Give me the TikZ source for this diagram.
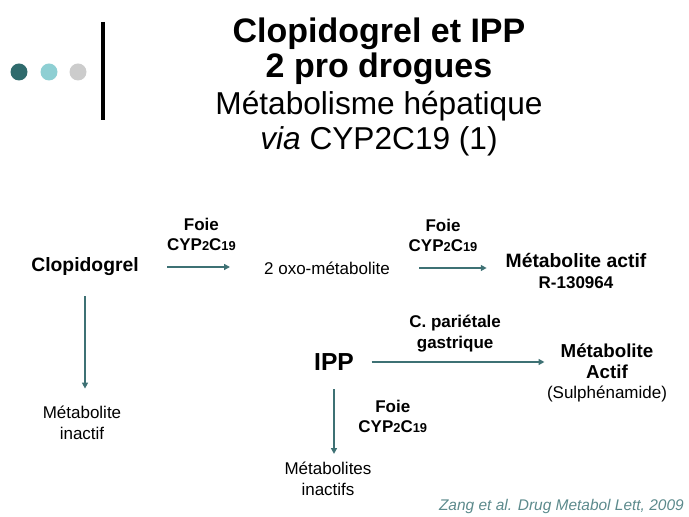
\documentclass[tikz,border=0pt]{standalone}
\usepackage{fontspec}
\setmainfont{Liberation Sans}
\usepackage{xcolor}
\usetikzlibrary{arrows.meta,positioning}

\definecolor{teal1}{HTML}{2F6B6D}
\definecolor{teal2}{HTML}{8ECFD3}
\definecolor{grey1}{HTML}{CCCCCC}
\definecolor{flowc}{HTML}{3E7174}
\definecolor{refc}{HTML}{5C8A8C}

% small digits in the enzyme name
\newcommand{\smalldig}[1]{{\fontsize{11}{11}\selectfont #1}}
\newcommand{\cypname}{CYP\smalldig{2}C\smalldig{19}}

\begin{document}
\begin{tikzpicture}[
    x=0.03cm, y=-0.03cm,
    % Styles
    titlebold/.style={% first two lines of the title
        inner sep=0pt,
        font=\fontsize{29}{31}\selectfont\bfseries
        },
    titlereg/.style={% last two lines of the title
        inner sep=0pt,
        font=\fontsize{27}{31}\selectfont
        },
    drug/.style={% main compounds
        inner sep=0pt, align=center,
        font=\fontsize{16.5}{19}\selectfont\bfseries
        },
    enz/.style={% enzyme / organ labels
        inner sep=0pt, align=center,
        font=\fontsize{14.5}{17.5}\selectfont\bfseries
        },
    plain/.style={% ordinary text
        inner sep=0pt, align=center,
        font=\fontsize{14.5}{17.5}\selectfont
        },
    flow/.style={% teal arrows
        draw=flowc,
        line width=1.7pt,
        -{Triangle[length=5pt,width=5pt]},
        },
    ]

% frame of the page
\useasboundingbox (0,0) rectangle (689,517);

% dots and bar on the left
\fill[teal1] (19,72) circle (8.5);
\fill[teal2] (49,72) circle (8.5);
\fill[grey1] (78,72) circle (8.5);
\draw[line width=2.6pt] (103,22) -- (103,120);

% title
\node[titlebold] (t1) at (379,34) {Clopidogrel et IPP};
\node[titlebold] (t2) at (379,69) {2 pro drogues};
\node[titlereg]  (t3) at (379,106) {Métabolisme hépatique};
\node[titlereg]  (t4) at (379,141) {\itshape via\upshape\ CYP2C19 (1)};

% clopidogrel pathway
\node[drug] (clopi) at (85,267) {Clopidogrel};
\node[plain] (oxo) at (327,268) {2 oxo-métabolite};
\node[drug] (actif) at (576,271) {Métabolite actif\\[-1pt]{\fontsize{14.5}{14.5}\selectfont R-130964}};
\node[plain] (inact) at (82,423) {Métabolite\\inactif};

\draw[flow, shorten <=24pt, shorten >=29pt] (clopi.east) -- (clopi.east -| oxo.west)
    node[enz, midway, above=13pt] (foie1) {Foie\\\cypname};
\draw[flow, shorten <=25pt, shorten >=16pt] (oxo.east) -- (oxo.east -| actif.west)
    node[enz, midway, above=13pt, xshift=-4pt] (foie2) {Foie\\\cypname};
\draw[flow, shorten <=17pt, shorten >=15pt] (clopi.south) -- (clopi.south |- inact.north);

% IPP pathway
\node[drug, font=\fontsize{21}{21}\selectfont\bfseries] (ipp) at (334,362) {IPP};
\node[drug, font=\fontsize{16}{17.5}\selectfont\bfseries] (act2) at (607,373)
    {Métabolite\\Actif\\{\mdseries\fontsize{14.5}{17.5}\selectfont (Sulphénamide)}};
\node[plain] (inact2) at (328,479) {Métabolites\\inactifs};

\draw[flow, shorten <=15pt, shorten >=2pt] (ipp.east) -- (ipp.east -| act2.west)
    node[enz, midway, above=8pt, xshift=4pt] (cpar) {C. pariétale\\gastrique};
\draw[flow, shorten <=16pt, shorten >=7pt] (ipp.south) -- (ipp.south |- inact2.north)
    node[enz, midway, right=20pt] (foie3) {Foie\\\cypname};

% reference
\node[inner sep=0pt, anchor=east, text=refc, font=\fontsize{13.2}{13.2}\selectfont\itshape] (ref) at (684,507) {Zang et al. Drug Metabol Lett, 2009};
\end{tikzpicture}
\end{document}
